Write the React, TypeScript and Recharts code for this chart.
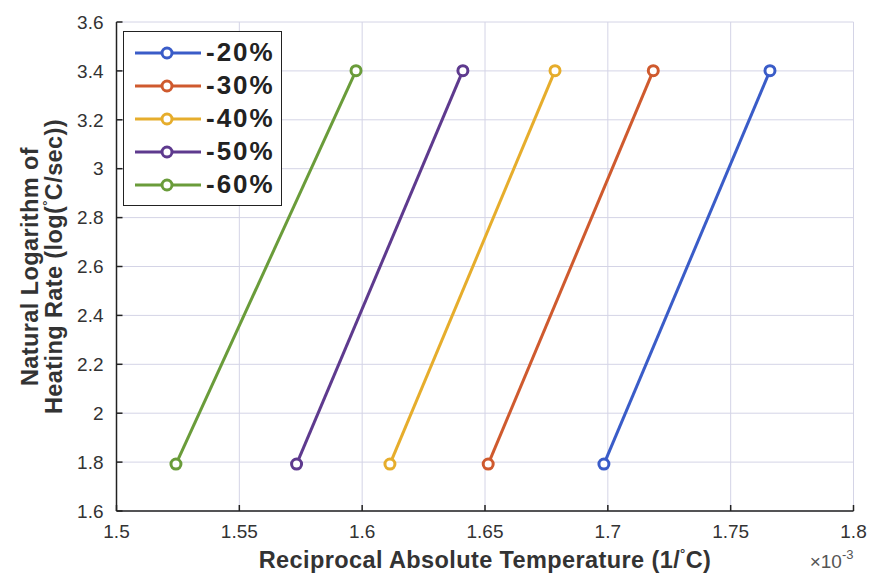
import React from 'react';
import { LineChart, Line, XAxis, YAxis, CartesianGrid, Legend } from 'recharts';

// ln(heating rate) levels (y values shared by every series)
const heatingRateLog = [1.792, 3.401];

// Reciprocal absolute temperature (x 10^-3) for each conversion level
const seriesNames = ['-20%', '-30%', '-40%', '-50%', '-60%'];
const temp20 = [1.6984, 1.766];
const temp30 = [1.6513, 1.7185];
const temp40 = [1.6113, 1.6785];
const temp50 = [1.5733, 1.641];
const temp60 = [1.5242, 1.5975];
const seriesTemps = [temp20, temp30, temp40, temp50, temp60];
const seriesColors = ['#3a5cc8', '#cf5a2e', '#e6ad2c', '#5e3a8e', '#6a9c3a'];

const xTicks = [1.5, 1.55, 1.6, 1.65, 1.7, 1.75, 1.8];
const yTicks = [1.6, 1.8, 2, 2.2, 2.4, 2.6, 2.8, 3, 3.2, 3.4, 3.6];

const FONT = '"Liberation Sans", Arial, Helvetica, sans-serif';

const seriesData = seriesTemps.map((temps) =>
  temps.map((t, i) => ({ x: t, y: heatingRateLog[i] }))
);

const LegendBox = (props: any) => {
  const payload = props.payload || [];
  return (
    <div
      style={{
        border: '1.5px solid #222',
        background: '#fff',
        padding: '4px 0 4px 0',
        fontFamily: FONT,
        width: 157,
      }}
    >
      {payload.map((p: any) => (
        <div key={p.value} style={{ display: 'flex', alignItems: 'center', height: 33 }}>
          <svg width={66} height={20} style={{ marginLeft: 11 }}>
            <line x1={0} y1={10} x2={66} y2={10} stroke={p.color} strokeWidth={3} />
            <circle cx={32} cy={10} r={5} stroke={p.color} strokeWidth={3} fill="#fff" />
          </svg>
          <span
            style={{
              marginLeft: 5,
              fontSize: 26,
              fontWeight: 'bold',
              letterSpacing: 2,
              color: '#222',
              lineHeight: '33px',
            }}
          >
            {p.value}
          </span>
        </div>
      ))}
    </div>
  );
};

const YLabel = (props: any) => {
  const vb = props.viewBox || { x: 0, y: 0, width: 0, height: 0 };
  const cy = vb.y + vb.height / 2;
  const x1 = vb.x + 38;
  const x2 = vb.x + 62;
  return (
    <g>
      <text
        x={x1}
        y={cy}
        transform={`rotate(-90 ${x1} ${cy})`}
        textAnchor="middle"
        fontFamily={FONT}
        fontSize={23.5}
        fontWeight="bold"
        letterSpacing={0.4}
        fill="#333"
      >
        Natural Logarithm of
      </text>
      <text
        x={x2}
        y={cy}
        transform={`rotate(-90 ${x2} ${cy})`}
        textAnchor="middle"
        fontFamily={FONT}
        fontSize={23.5}
        fontWeight="bold"
        letterSpacing={0.4}
        fill="#333"
      >
        Heating Rate (log(
        <tspan fontSize={13} dy={-10}>°</tspan>
        <tspan dy={10}>C/sec))</tspan>
      </text>
    </g>
  );
};

const XLabel = (props: any) => {
  const vb = props.viewBox || { x: 0, y: 0, width: 0, height: 0 };
  const cx = vb.x + vb.width / 2;
  return (
    <g>
      <text
        x={cx}
        y={vb.y + 57}
        textAnchor="middle"
        fontFamily={FONT}
        fontSize={23.5}
        fontWeight="bold"
        fill="#333"
        letterSpacing={0.4}
      >
        Reciprocal Absolute Temperature (1/
        <tspan fontSize={13} dy={-10}>°</tspan>
        <tspan dy={10}>C)</tspan>
      </text>
      <text
        x={vb.x + vb.width}
        y={vb.y + 57}
        textAnchor="end"
        fontFamily={FONT}
        fontSize={19}
        fill="#555"
      >
        ×10
        <tspan fontSize={13} dy={-9}>-3</tspan>
      </text>
    </g>
  );
};

export default function App() {
  return (
    <div style={{ position: 'absolute', left: 0, top: 0, background: '#fff' }}>
      <LineChart
        width={871}
        height={575}
        margin={{ top: 22, right: 17.5, bottom: 0, left: 0 }}
      >
        <CartesianGrid stroke="#d4d4e6" strokeWidth={1} />
        <XAxis
          xAxisId={0}
          dataKey="x"
          type="number"
          domain={[1.5, 1.8]}
          ticks={xTicks}
          allowDataOverflow
          height={64}
          tickSize={-6}
          tickMargin={20}
          axisLine={{ stroke: '#222', strokeWidth: 1.5 }}
          tickLine={{ stroke: '#222', strokeWidth: 1.5 }}
          tick={{ fontFamily: FONT, fontSize: 19, fill: '#333' }}
          label={<XLabel />}
        />
        <XAxis
          xAxisId="top"
          orientation="top"
          dataKey="x"
          type="number"
          domain={[1.5, 1.8]}
          ticks={xTicks}
          allowDataOverflow
          height={0}
          tickSize={-6}
          tickFormatter={() => ''}
          axisLine={{ stroke: '#222', strokeWidth: 1.5 }}
          tickLine={{ stroke: '#222', strokeWidth: 1.5 }}
        />
        <YAxis
          yAxisId={0}
          type="number"
          domain={[1.6, 3.6]}
          ticks={yTicks}
          allowDataOverflow
          width={116.5}
          tickSize={-6}
          tickMargin={19}
          axisLine={{ stroke: '#222', strokeWidth: 1.5 }}
          tickLine={{ stroke: '#222', strokeWidth: 1.5 }}
          tick={{ fontFamily: FONT, fontSize: 19, fill: '#333' }}
          label={<YLabel />}
        />
        <YAxis
          yAxisId="right"
          orientation="right"
          type="number"
          domain={[1.6, 3.6]}
          ticks={yTicks}
          allowDataOverflow
          width={0}
          tickSize={-6}
          tickFormatter={() => ''}
          axisLine={{ stroke: '#222', strokeWidth: 1.5 }}
          tickLine={{ stroke: '#222', strokeWidth: 1.5 }}
        />
        <Legend
          layout="vertical"
          align="center"
          verticalAlign="middle"
          content={<LegendBox />}
          wrapperStyle={{ left: 123, top: 31, width: 'auto', height: 'auto' }}
        />
        {seriesData.map((d, i) => (
          <Line
            key={seriesNames[i]}
            data={d}
            dataKey="y"
            name={seriesNames[i]}
            stroke={seriesColors[i]}
            strokeWidth={3}
            dot={{ r: 5, stroke: seriesColors[i], strokeWidth: 3, fill: '#fff' }}
            activeDot={false}
            isAnimationActive={false}
          />
        ))}
      </LineChart>
    </div>
  );
}
